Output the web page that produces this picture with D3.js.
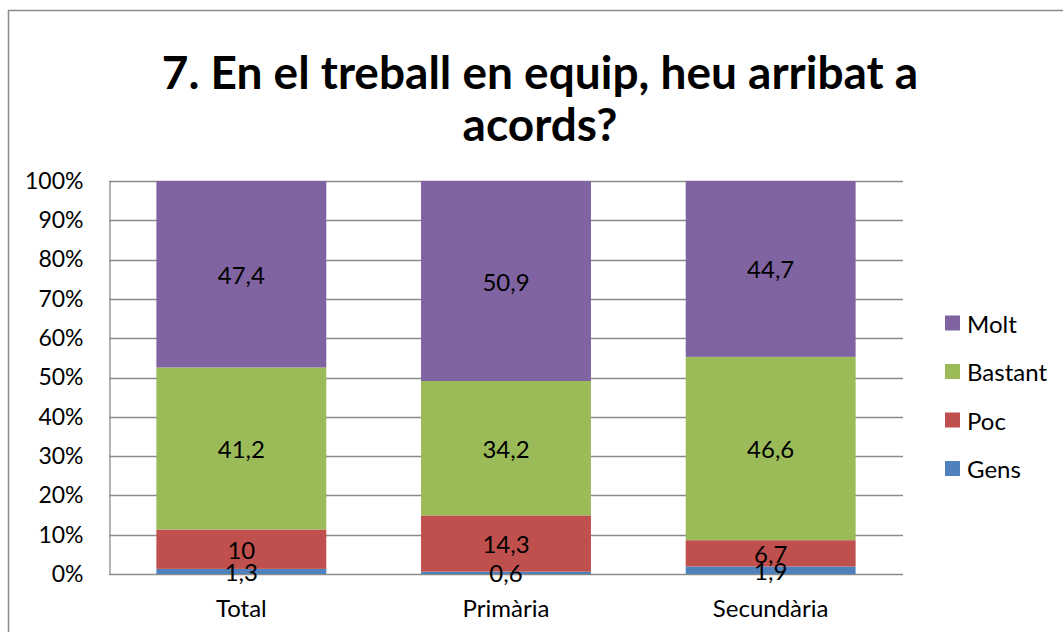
<!DOCTYPE html>
<html>
<head>
  <meta charset="utf-8">
  <script src="https://d3js.org/d3.v7.min.js"></script>
  <style>
    body { margin: 0; background: #fff; }
    text { font-family: Lato, "Open Sans", sans-serif; fill: #000; }
  </style>
</head>
<body>
  <svg id="canvas" width="1063" height="632"></svg>
  <script>
    const categories = ["Total", "Primària", "Secundària"];
    const seriesNames = ["Gens", "Poc", "Bastant", "Molt"];
    const gens = [1.3, 0.6, 1.9];
    const poc = [10, 14.3, 6.7];
    const bastant = [41.2, 34.2, 46.6];
    const molt = [47.4, 50.9, 44.7];
    const yTicks = [0, 0.1, 0.2, 0.3, 0.4, 0.5, 0.6, 0.7, 0.8, 0.9, 1];
    const colors = ["#4F81BD", "#C0504D", "#9BBB59", "#8064A2"];

    const svg = d3.select("#canvas");
    const width = +svg.attr("width");
    const height = +svg.attr("height");

    // outer chart border
    svg.append("rect")
      .attr("x", 8.5).attr("y", 10.5)
      .attr("width", width + 10).attr("height", height + 10)
      .attr("fill", "none").attr("stroke", "#8c8c8c").attr("stroke-width", 1.5);

    // title
    svg.append("text").attr("x", 540).attr("y", 89)
      .attr("text-anchor", "middle").attr("font-size", 46).attr("font-weight", "bold")
      .text("7. En el treball en equip, heu arribat a");
    svg.append("text").attr("x", 540).attr("y", 141)
      .attr("text-anchor", "middle").attr("font-size", 46).attr("font-weight", "bold")
      .text("acords?");

    const margin = { left: 109, right: 903, top: 181, bottom: 574 };

    const rows = categories.map((c, i) => ({
      cat: c, Gens: gens[i], Poc: poc[i], Bastant: bastant[i], Molt: molt[i]
    }));

    const stack = d3.stack().keys(seriesNames).offset(d3.stackOffsetExpand);
    const layers = stack(rows);

    const x = d3.scaleBand().domain(categories)
      .range([margin.left, margin.right]).paddingInner(0.358).paddingOuter(0.179);
    const y = d3.scaleLinear().domain([0, 1]).range([margin.bottom, margin.top]);

    // gridlines
    svg.append("g").selectAll("line").data(yTicks).join("line")
      .attr("x1", margin.left).attr("x2", margin.right)
      .attr("y1", d => Math.round(y(d)) + 0.5).attr("y2", d => Math.round(y(d)) + 0.5)
      .attr("stroke", "#8a8a8a").attr("stroke-width", 1.3);

    // y axis
    const yAxis = d3.axisLeft(y).tickValues(yTicks).tickFormat(d3.format(".0%")).tickSize(0).tickPadding(26);
    const ga = svg.append("g").attr("transform", `translate(${margin.left + 0.5},0)`).call(yAxis);
    ga.select(".domain").attr("stroke", "#8a8a8a").attr("stroke-width", 1.3);
    ga.selectAll("text").attr("font-size", 23).attr("font-family", "Lato, sans-serif").attr("fill", "#000");

    // bars
    const g = svg.append("g");
    layers.forEach((layer, li) => {
      g.append("g").attr("fill", colors[li]).selectAll("rect").data(layer).join("rect")
        .attr("x", d => x(d.data.cat))
        .attr("width", x.bandwidth())
        .attr("y", d => y(d[1]))
        .attr("height", d => y(d[0]) - y(d[1]));
    });

    // data labels
    const fmt = v => String(v).replace(".", ",");
    layers.forEach((layer) => {
      g.append("g").selectAll("text").data(layer).join("text")
        .attr("x", d => x(d.data.cat) + x.bandwidth() / 2)
        .attr("y", d => (y(d[0]) + y(d[1])) / 2)
        .attr("text-anchor", "middle").attr("dominant-baseline", "central")
        .attr("font-size", 24)
        .text(d => fmt(d.data[layer.key]));
    });

    // category labels
    svg.append("g").selectAll("text").data(categories).join("text")
      .attr("x", d => x(d) + x.bandwidth() / 2).attr("y", 607)
      .attr("text-anchor", "middle").attr("dominant-baseline", "central")
      .attr("font-size", 24).text(d => d);

    // legend (Molt at top)
    const legendItems = seriesNames.map((n, i) => ({ name: n, color: colors[i] })).reverse();
    const lg = svg.append("g").selectAll("g").data(legendItems).join("g")
      .attr("transform", (d, i) => `translate(945, ${323 + i * 48.5})`);
    lg.append("rect").attr("x", 0).attr("y", -7.5).attr("width", 15).attr("height", 15)
      .attr("fill", d => d.color);
    lg.append("text").attr("x", 22).attr("y", 0).attr("dominant-baseline", "central")
      .attr("font-size", 24).text(d => d.name);
  </script>
</body>
</html>
